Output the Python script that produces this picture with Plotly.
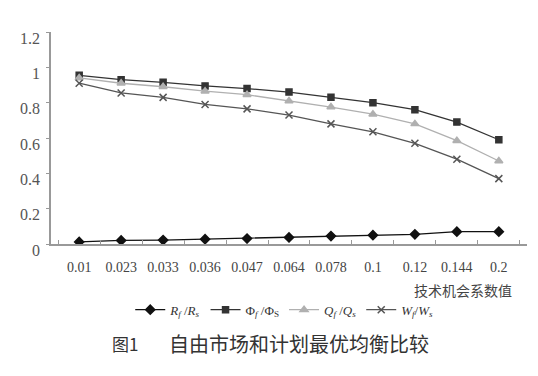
import plotly.graph_objects as go

categories = ["0.01", "0.023", "0.033", "0.036", "0.047", "0.064", "0.078", "0.1", "0.12", "0.144", "0.2"]
r_ratio = [0.012, 0.02, 0.022, 0.027, 0.031, 0.037, 0.045, 0.05, 0.055, 0.07, 0.07]
phi_ratio = [0.955, 0.93, 0.915, 0.895, 0.88, 0.86, 0.83, 0.80, 0.76, 0.69, 0.59]
q_ratio = [0.94, 0.91, 0.89, 0.865, 0.845, 0.81, 0.775, 0.735, 0.68, 0.585, 0.47]
w_ratio = [0.91, 0.855, 0.83, 0.79, 0.765, 0.73, 0.68, 0.635, 0.57, 0.48, 0.37]
y_ticks = [0, 0.2, 0.4, 0.6, 0.8, 1, 1.2]
y_tick_text = ["0", "0.2", "0.4", "0.6", "0.8", "1", "1.2"]

serif = "Liberation Serif"
cjk = "Noto Sans CJK SC"

fig = go.Figure()
series = [
    ("<i>R<sub>f</sub></i> /<i>R<sub>s</sub></i>", r_ratio, "#111111", "diamond", 7),
    ("Φ<sub><i>f</i></sub> /Φ<sub>S</sub>", phi_ratio, "#333333", "square", 6),
    ("<i>Q<sub>f</sub></i> /<i>Q<sub>s</sub></i>", q_ratio, "#b0b0b0", "triangle-up", 7),
    ("<i>W<sub>f</sub></i>/<i>W<sub>s</sub></i>", w_ratio, "#555555", "x-thin", 7),
]
for name, vals, color, sym, size in series:
    fig.add_trace(go.Scatter(
        x=categories, y=vals, name=name, mode="lines+markers",
        line=dict(color=color, width=1.3),
        marker=dict(symbol=sym, size=size, color=color,
                    line=dict(color=color, width=1.5)),
    ))

# page body has an 8px margin; margins compensate so the plot area sits where the reference has it
fig.update_layout(
    width=538, height=376,
    margin=dict(l=41, r=19, t=24, b=140),
    paper_bgcolor="white", plot_bgcolor="white",
    showlegend=True,
    legend=dict(orientation="h", x=0.49, xanchor="center", y=-0.31, yanchor="middle",
                font=dict(family=serif, size=13, color="#333333"),
                itemwidth=30, tracegroupgap=0),
    font=dict(family=serif, color="#444444"),
    xaxis=dict(
        type="category", showline=True, linecolor="#999999", linewidth=1.5,
        ticks="inside", tickson="boundaries", ticklen=4, tickcolor="#999999",
        tickfont=dict(family=serif, size=14, color="#444444"),
        tickangle=0, ticklabelstandoff=9,
        showgrid=False, zeroline=False,
    ),
    yaxis=dict(
        range=[0, 1.2], tickvals=y_ticks, ticktext=y_tick_text,
        showline=True, linecolor="#999999", linewidth=1.5,
        ticks="outside", ticklen=3, tickcolor="#999999",
        tickfont=dict(family=serif, size=16, color="#555555"),
        ticklabelshift=6, ticklabelstandoff=3,
        showgrid=False, zeroline=False,
    ),
    annotations=[
        dict(text="技术机会系数值", xref="paper", yref="paper", x=1.0, y=-0.215,
             xanchor="right", yanchor="middle", showarrow=False, xshift=-13,
             font=dict(family=cjk, size=14, color="#444444")),
        dict(text="图1", xref="paper", yref="paper", x=0, y=-0.468,
             xanchor="left", yanchor="middle", showarrow=False, xshift=59,
             font=dict(family=cjk, size=17, color="#333333")),
        dict(text="自由市场和计划最优均衡比较", xref="paper", yref="paper", x=0, y=-0.468,
             xanchor="left", yanchor="middle", showarrow=False, xshift=116,
             font=dict(family=cjk, size=20, color="#333333")),
    ],
)

fig.write_html("out.html")
